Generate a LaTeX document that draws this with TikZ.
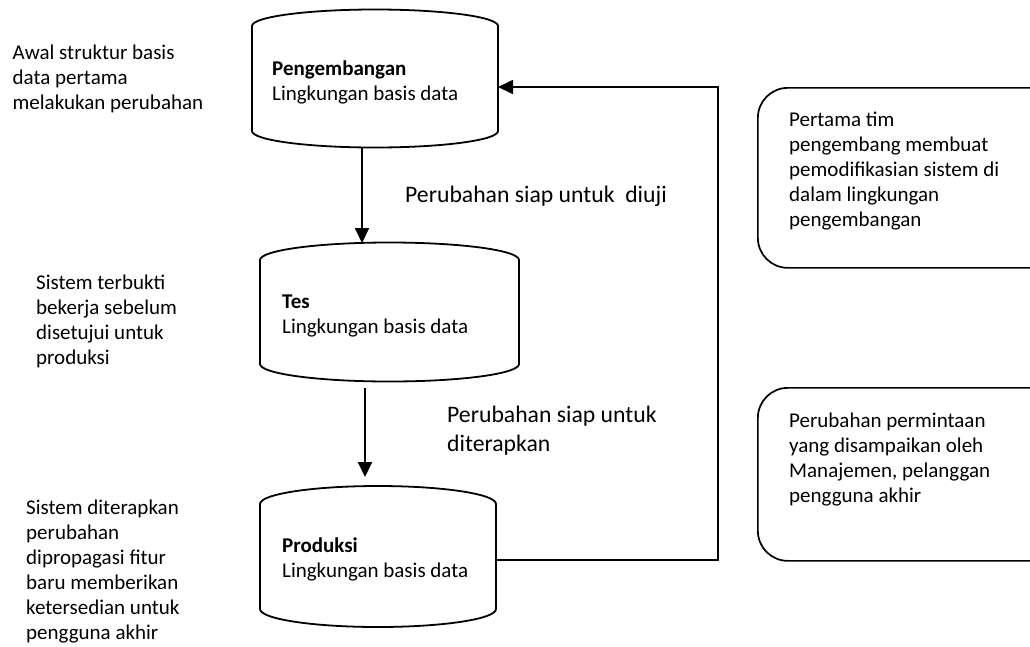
\documentclass[tikz,border=0pt]{standalone}
\usepackage{fontspec}
\setmainfont{Carlito}
\usetikzlibrary{arrows.meta}

% drum: name, centre x, x radius, top y, bottom y, y radius
\newcommand{\drum}[6]{%
  \draw[drumline] (#2,#4) ellipse [x radius=#3, y radius=#6];
  \draw[drumline] (#2-#3,#4) -- (#2-#3,#5)
    arc [start angle=180, end angle=0, x radius=#3, y radius=#6]
    -- (#2+#3,#4);
  \coordinate (#1-west) at (#2-#3,#4);
}

\tikzset{
  drumline/.style={line width=1.8pt, fill=white},
  flow/.style={line width=2pt, -{Triangle[length=15pt,width=14pt]}},
  loopline/.style={line width=1.7pt, -{Triangle[length=15pt,width=14pt]}},
  notebox/.style={draw, line width=1.7pt, rounded corners=30pt,
    anchor=north west, inner sep=0pt},
  % multi-line texts are placed by the baseline of their last line
  body/.style={font=\fontsize{21}{25}\selectfont, align=left,
    anchor=base west, inner sep=0pt},
  biglabel/.style={font=\fontsize{23.7}{29.5}\selectfont, align=left,
    anchor=base west, inner sep=0pt},
}

\begin{document}
\begin{tikzpicture}[x=1pt, y=-1pt]
\useasboundingbox (0,0) rectangle (1030,646);
\clip (0,0) rectangle (1030,646);

% three database drums
\drum{dev}{375}{123}{26}{131}{16.5}
\drum{test}{389.5}{129.5}{260}{364}{17.5}
\drum{prod}{378}{118}{504}{609}{18}

\node[body] (devtext) at (272,100) {\textbf{Pengembangan}\\Lingkungan basis data};
\node[body] (testtext) at (282,333) {\textbf{Tes}\\Lingkungan basis data};
\node[body] (prodtext) at (282,577) {\textbf{Produksi}\\Lingkungan basis data};

% connection points on the drums
\coordinate (devbottom) at (362,147);
\coordinate (testtop) at (362,243);
\coordinate (deploystart) at (365,388);
\coordinate (deployend) at (365,477);
\coordinate (prodright) at (496,560);
\coordinate (devright) at (498,87);
\coordinate (loopcorner) at (718,87);
\coordinate (loopbottom) at (718,560);

\draw[flow] (devbottom) -- (testtop);
\draw[flow] (deploystart) -- (deployend);
\draw[loopline] (prodright) -- (loopbottom) -- (loopcorner) -- (devright);

% step labels
\node[biglabel] (lbltest) at (405,202) {Perubahan siap untuk\ \ diuji};
\node[biglabel] (lbldeploy) at (447,451.5) {Perubahan siap untuk\\diterapkan};

% side notes
\node[body] (noteA) at (12.5,109) {Awal struktur basis\\data pertama\\melakukan perubahan};
\node[body] (noteB) at (36,364) {Sistem terbukti\\bekerja sebelum\\disetujui untuk\\produksi};
\node[body] (noteC) at (26,639) {Sistem diterapkan\\perubahan\\dipropagasi fitur\\baru memberikan\\ketersedian untuk\\pengguna akhir};

% rounded boxes on the right
\node[notebox, minimum width=310pt, minimum height=180pt] (box1) at (757,87) {};
\node[body] (box1text) at (789,226) {Pertama tim\\pengembang membuat\\pemodifikasian sistem di\\dalam lingkungan\\pengembangan};
\node[notebox, minimum width=310pt, minimum height=173pt] (box2) at (757,387) {};
\node[body] (box2text) at (789,502) {Perubahan permintaan\\yang disampaikan oleh\\Manajemen, pelanggan\\pengguna akhir};
\end{tikzpicture}
\end{document}
